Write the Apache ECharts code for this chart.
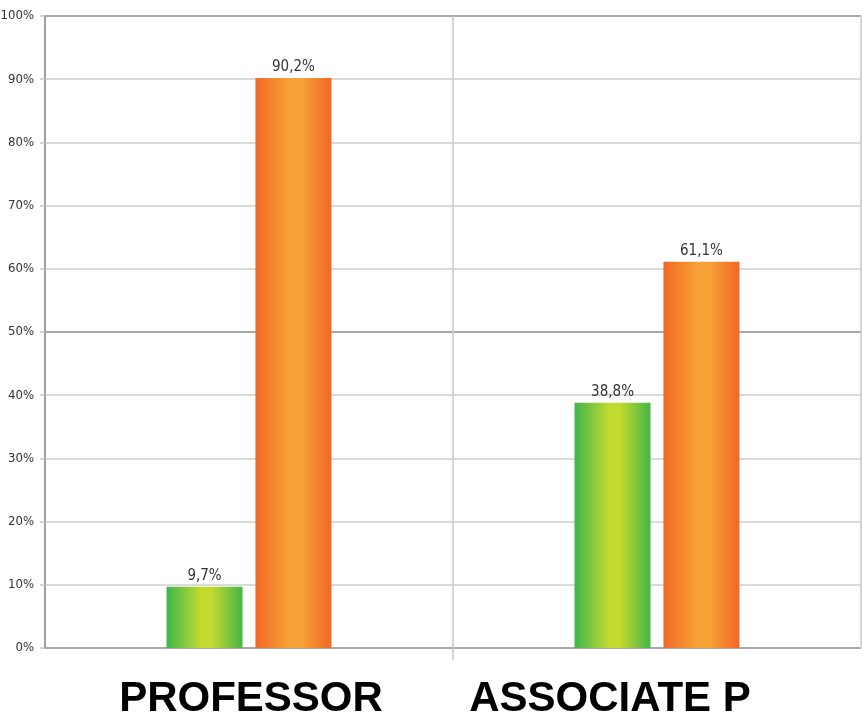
<!DOCTYPE html>
<html><head><meta charset="utf-8">
<script src="https://cdn.jsdelivr.net/npm/echarts@6/dist/echarts.min.js"></script>
<style>html,body{margin:0;padding:0;background:#fff}#c{width:863px;height:718px}</style>
</head><body><div id="c"></div>
<script>
const categories = ['PROFESSOR', 'ASSOCIATE P'];
const greenValues = [9.7, 38.8];
const orangeValues = [90.2, 61.1];
const yTicks = [0,10,20,30,40,50,60,70,80,90,100];

const narrow = "'Liberation Sans Narrow','DejaVu Sans Condensed','Liberation Sans',sans-serif";
function grad(a,b,c){
  return new echarts.graphic.LinearGradient(0,0,1,0,[
    {offset:0,color:a},{offset:0.45,color:b},{offset:0.6,color:b},{offset:1,color:c}]);
}
const chart = echarts.init(document.getElementById('c'), null, {renderer:'canvas'});
const fmt = p => String(p.value).replace('.', ',') + '%';
const bold = 'Liberation Sans, Arial, sans-serif';
chart.setOption({
  animation:false,
  grid:{left:45,right:2,top:16,bottom:70,outerBoundsMode:'none',containLabel:false},
  xAxis:{
    type:'category', data:categories,
    axisLine:{show:false},
    axisTick:{show:false},
    splitLine:{show:true,interval:0,lineStyle:{color:'#c8c8c8',width:1.5}},
    axisLabel:{interval:0,hideOverlap:false,color:'#000',fontFamily:bold,fontWeight:'bold',fontSize:42,margin:30,
      formatter:(v,i)=> i===1 ? '{b|'+v+'}' : '{a|'+v+'}',
      rich:{a:{fontFamily:bold,fontWeight:'bold',fontSize:42,color:'#000',padding:[0,0,0,4]},
            b:{fontFamily:bold,fontWeight:'bold',fontSize:42,color:'#000',padding:[0,94,0,0]}}}
  },
  yAxis:{
    type:'value', min:0, max:100, interval:10,
    axisLine:{show:true,lineStyle:{color:'#8c8c8c',width:1.5}},
    axisTick:{show:true,length:5,lineStyle:{color:'#c8c8c8',width:1.5}},
    axisLabel:{formatter:v=>v+'%',color:'#333',fontFamily:narrow,fontSize:13,margin:11},
    splitLine:{show:true,lineStyle:{width:1.6,color:yTicks.map(v=>(v%50===0)?'#8c8c8c':'#cfcfcf')}}
  },
  series:[
    {type:'bar',data:greenValues,barWidth:76,barGap:'17%',
     itemStyle:{color:grad('#3db54a','#c2d92f','#45b649')},
     label:{show:true,position:'top',distance:3,formatter:fmt,color:'#333',fontFamily:narrow,fontSize:15}},
    {type:'bar',data:orangeValues,barWidth:76,
     itemStyle:{color:grad('#f26726','#f7a236','#f26726')},
     label:{show:true,position:'top',distance:3,formatter:fmt,color:'#333',fontFamily:narrow,fontSize:15}}
  ]
});
// tick below the axis at the boundary between the two categories, positioned via the chart's own scales
const p0 = chart.convertToPixel({gridIndex:0},[0,0]);
const p1 = chart.convertToPixel({gridIndex:0},[1,0]);
const bx = (p0[0]+p1[0])/2;
chart.setOption({graphic:[{type:'line',shape:{x1:bx,y1:p0[1],x2:bx,y2:p0[1]+12},style:{stroke:'#c8c8c8',lineWidth:1.5}}]});
</script></body></html>
